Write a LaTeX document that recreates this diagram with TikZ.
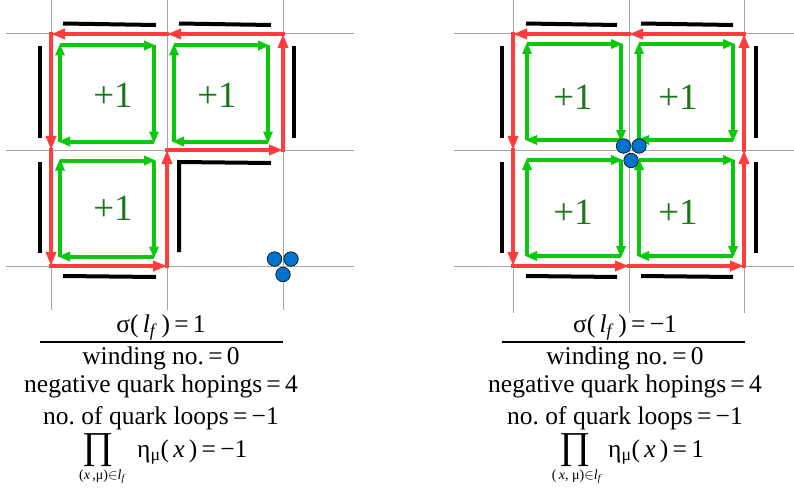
\documentclass[tikz,border=0pt]{standalone}
\usepackage{fontspec}
\setmainfont{Liberation Serif}
\usetikzlibrary{arrows.meta}
\frenchspacing
\definecolor{lred}{RGB}{255,60,60}
\definecolor{lgreen}{RGB}{10,200,10}
\definecolor{dgreen}{RGB}{25,120,25}
\definecolor{qblue}{RGB}{0,115,205}
\definecolor{gridgray}{RGB}{165,165,165}
\tikzset{
  latline/.style={gridgray, line width=1pt},
  redlink/.style={lred, line width=4pt, line cap=rect, -{Triangle[length=14pt,width=10pt]}},
  greenlink/.style={lgreen, line width=4pt, -{Triangle[length=12pt,width=9pt]}},
  linkbar/.style={black, line width=4pt},
  quark/.style={circle, fill=qblue, draw=black, line width=0.6pt, minimum size=14.5pt, inner sep=0pt},
  plusone/.style={text=dgreen, font=\fontsize{37}{37}\selectfont, inner sep=0pt},
  txt/.style={font=\fontsize{25.5}{30}\selectfont, anchor=base, inner sep=0pt},
  subtxt/.style={font=\fontsize{14}{16}\selectfont, anchor=base, inner sep=0pt},
  prodsym/.style={font=\fontsize{38}{38}\selectfont, inner sep=0pt},
  fracbar/.style={black, line width=1.5pt}
}
\newcommand\gloop[3]{%
  \coordinate (#1tl) at (#2,#3);
  \coordinate (#1tr) at (#2+94,#3);
  \coordinate (#1br) at (#2+94,#3+96);
  \coordinate (#1bl) at (#2,#3+96);
  \draw[greenlink] (#1tl) -- ([shift={(2,0)}]#1tr);
  \draw[greenlink] (#1tr) -- ([shift={(0,2)}]#1br);
  \draw[greenlink] (#1br) -- ([shift={(-2,0)}]#1bl);
  \draw[greenlink] (#1bl) -- ([shift={(0,-2)}]#1tl);
}
\newcommand\lf{\textit{l}\textsubscript{\textit{f}}}
\begin{document}
\begin{tikzpicture}[x=1pt,y=-1pt]
\useasboundingbox (0,0) rectangle (794,492);
% ---------- lattice sites ----------
\coordinate (a00) at (51,34);  \coordinate (a10) at (167,34);  \coordinate (a20) at (283,34);
\coordinate (a01) at (51,150); \coordinate (a11) at (167,150); \coordinate (a21) at (283,150);
\coordinate (a02) at (51,266); \coordinate (a12) at (167,266); \coordinate (a22) at (283,266);
\coordinate (b00) at (513,34);  \coordinate (b10) at (629,34);  \coordinate (b20) at (744,34);
\coordinate (b01) at (513,150); \coordinate (b11) at (629,150); \coordinate (b21) at (744,150);
\coordinate (b02) at (513,266); \coordinate (b12) at (629,266); \coordinate (b22) at (744,266);
% ---------- lattice lines ----------
\foreach \y in {34,150,266} {
  \draw[latline] (6,\y) -- (354,\y);
  \draw[latline] (454,\y) -- (794,\y);
}
\foreach \x in {51,167,283} { \draw[latline] (\x,0) -- (\x,310); }
\foreach \x in {513,629,744} { \draw[latline] (\x,0) -- (\x,313); }
% ---------- black link bars, left ----------
\draw[linkbar] (63,23.5) -- (156,25);
\draw[linkbar] (179,23.5) -- (271,25);
\draw[linkbar] (40,46) -- (40,138);
\draw[linkbar] (40,162) -- (40,253);
\draw[linkbar] (63,276) -- (156,277);
\draw[linkbar] (294,46) -- (294,138);
\draw[linkbar] (179,252) -- (179,162) -- (271,163);
% ---------- black link bars, right ----------
\draw[linkbar] (526,23.5) -- (617,25);
\draw[linkbar] (641,23.5) -- (733,25);
\draw[linkbar] (502,46) -- (502,138);
\draw[linkbar] (502,162) -- (502,253);
\draw[linkbar] (756,46) -- (756,138);
\draw[linkbar] (756,162) -- (756,253);
\draw[linkbar] (526,276) -- (617,277);
\draw[linkbar] (641,276) -- (733,277);
% ---------- green plaquette loops ----------
\gloop{gA}{60}{45.5}
\gloop{gB}{174}{45.5}
\gloop{gC}{60}{160.5}
\gloop{gD}{527}{44}
\gloop{gE}{639}{44}
\gloop{gF}{527}{160}
\gloop{gG}{639}{160}
% ---------- red quark loops ----------
\draw[redlink] (a20) -- (a10);
\draw[redlink] (a10) -- (a00);
\draw[redlink] (a00) -- (a01);
\draw[redlink] (a01) -- (a02);
\draw[redlink] (a02) -- (a12);
\draw[redlink] (a12) -- (a11);
\draw[redlink] (a11) -- (a21);
\draw[redlink] (a21) -- (a20);
\draw[redlink] (b20) -- (b10);
\draw[redlink] (b10) -- (b00);
\draw[redlink] (b00) -- (b01);
\draw[redlink] (b01) -- (b02);
\draw[redlink] (b02) -- (b12);
\draw[redlink] (b12) -- (b22);
\draw[redlink] (b22) -- (b21);
\draw[redlink] (b21) -- (b20);
% ---------- +1 labels ----------
\node[plusone] (pA) at (113,95) {+1};
\node[plusone] (pB) at (217,95) {+1};
\node[plusone] (pC) at (113,208) {+1};
\node[plusone] (pD) at (573,97) {+1};
\node[plusone] (pE) at (678,97) {+1};
\node[plusone] (pF) at (573,212) {+1};
\node[plusone] (pG) at (678,212) {+1};
% ---------- quarks ----------
\node[quark] (q1) at (274.5,259) {};
\node[quark] (q2) at (291,259) {};
\node[quark] (q3) at (283,274.5) {};
\node[quark] (q4) at (623.5,146) {};
\node[quark] (q5) at (639,146) {};
\node[quark] (q6) at (631,160.5) {};
% ---------- left text ----------
\node[txt] (sL) at (161,332) {σ(\,\lf\,)\,=\,1};
\draw[fracbar] (40,342) -- (283,342);
\node[txt] (wL) at (161,364) {winding no.\,=\,0};
\node[txt] (nL) at (161,392) {negative quark hopings\,=\,4};
\node[txt] (lL) at (161,424) {no. of quark loops\,=\,−1};
\node[prodsym] (pL) at (98,450) {∏};
\node[subtxt] (uL) at (102.5,479) {(\textit{x}\,,μ)$\in$\lf};
\node[txt, anchor=base west] (eL) at (137,457) {η\textsubscript{μ}(\,\textit{x}\,)\,=\,−1};
% ---------- right text ----------
\node[txt] (sR) at (625,332) {σ(\,\lf\,)\,=\,−1};
\draw[fracbar] (502,342) -- (745,342);
\node[txt] (wR) at (625,364) {winding no.\,=\,0};
\node[txt] (nR) at (625,392) {negative quark hopings\,=\,4};
\node[txt] (lR) at (625,424) {no. of quark loops\,=\,−1};
\node[prodsym] (pR) at (575,450) {∏};
\node[subtxt] (uR) at (577,479) {(\,\textit{x}, μ)$\in$\lf};
\node[txt, anchor=base west] (eR) at (608,457) {η\textsubscript{μ}(\,\textit{x}\,)\,=\,1};
\end{tikzpicture}
\end{document}
